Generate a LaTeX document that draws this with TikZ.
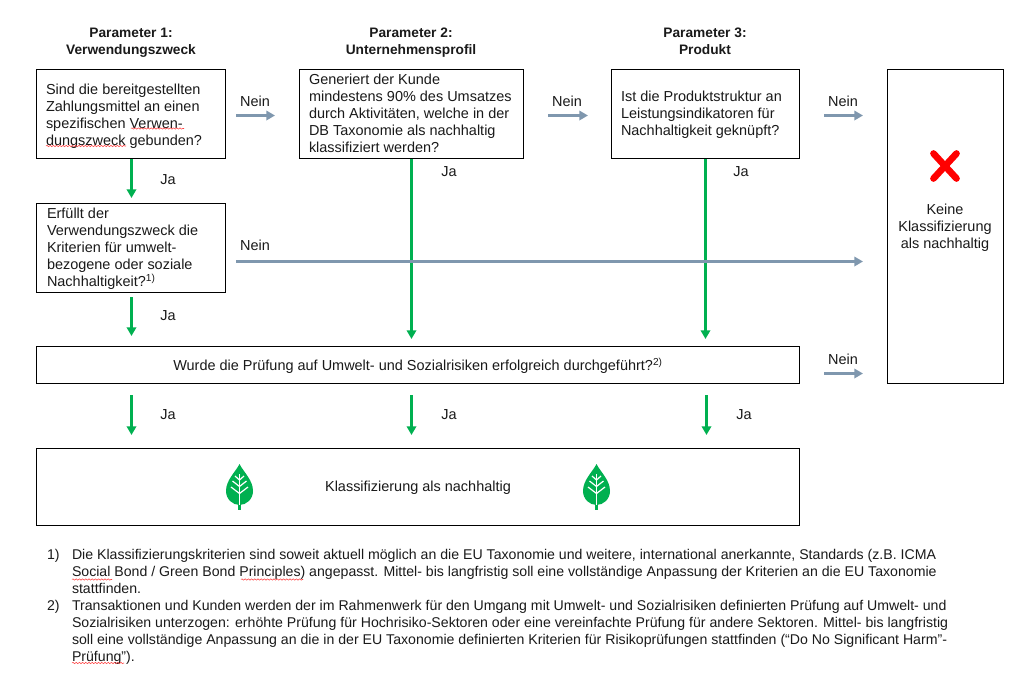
\documentclass[tikz,border=0pt]{standalone}
\usepackage{fontspec}
\setmainfont{Liberation Sans}
\usetikzlibrary{arrows.meta,decorations.pathmorphing}
\definecolor{gn}{HTML}{00B050}
\definecolor{gy}{HTML}{7F97AE}
\definecolor{tx}{HTML}{1A1A1A}
\tikzset{
 x=0.75pt,y=-0.75pt,
 box/.style={draw=black,line width=0.8pt,fill=white,minimum width=0pt,anchor=north west,inner sep=0pt,outer sep=0pt},
 txt/.style={font=\fontsize{10.85}{12.68}\selectfont,text=tx,align=left,inner sep=0pt,outer sep=0pt},
 foot/.style={font=\fontsize{10.6}{12.68}\selectfont,text=tx,align=left,inner sep=0pt,outer sep=0pt},
 ctr/.style={font=\fontsize{10.85}{12.68}\selectfont,text=tx,align=center,inner sep=0pt,outer sep=0pt},
 head/.style={font=\fontsize{10.3}{12.68}\selectfont\bfseries,text=tx,align=center,inner sep=0pt,outer sep=0pt},
 garrow/.style={draw=gn,line width=2.25pt,-{Triangle[length=6.5pt,width=7pt]}},
 narrow/.style={draw=gy,line width=2.25pt,-{Triangle[length=6.5pt,width=7pt]}},
 squig/.style={draw=red!75!white,line width=0.4pt,decorate,decoration={snake,amplitude=0.5pt,segment length=2.4pt}},
}
\newcommand{\rbox}[5]{\node[box,minimum width=#4*0.75pt,minimum height=#5*0.75pt] (#1) at (#2,#3) {};}
\newcommand{\leaf}[3]{%
 \begin{scope}[shift={(#2,#3)}]
  \fill[gn] (0,-23) .. controls (-4,-15) and (-13.5,-7) .. (-13.5,4) .. controls (-13.5,12) and (-7,18) .. (0,18) .. controls (7,18) and (13.5,12) .. (13.5,4) .. controls (13.5,-7) and (4,-15) .. (0,-23) -- cycle;
  \draw[gn,line width=1.6pt] (0,17) -- (0,22.5);
  \draw[white,line width=0.9pt] (0,-13) -- (0,18);
  \draw[white,line width=0.9pt] (-8.5,0) -- (0,6.5) -- (8.5,0) (-7,-6) -- (0,-0.5) -- (7,-6) (-4.5,-11) -- (0,-7) -- (4.5,-11);
 \end{scope}}
\begin{document}
\begin{tikzpicture}
\useasboundingbox (0,0) rectangle (1022,679);
\fill[white] (0,0) rectangle (1022,679);
% headers
\node[head,anchor=north] (h1) at (131,28) {Parameter 1:\\Verwendungszweck};
\node[head,anchor=north] (h2) at (411,28) {Parameter 2:\\Unternehmensprofil};
\node[head,anchor=north] (h3) at (705,28) {Parameter 3:\\Produkt};
% boxes
\rbox{b1}{36.5}{69.5}{189}{89}
\rbox{b2}{299.5}{69.5}{224}{89}
\rbox{b3}{611.5}{69.5}{188}{89}
\rbox{b4}{36.5}{203.5}{189}{89}
\rbox{b5}{36.5}{346.5}{763}{37}
\rbox{b6}{36.5}{448.5}{763}{77}
\rbox{b7}{887.5}{69.5}{116}{314}
% box texts
\node[txt,anchor=north west] (t1) at (46,84.5) {Sind die bereitgestellten\\Zahlungsmittel an einen\\spezifischen Verwen-\\dungszweck gebunden?};
\node[txt,anchor=north west] (t2) at (309,74.5) {Generiert der Kunde\\mindestens 90\% des Umsatzes\\durch Aktivitäten, welche in der\\DB Taxonomie als nachhaltig\\klassifiziert werden?};
\node[txt,anchor=north west] (t3) at (621,91.5) {Ist die Produktstruktur an\\Leistungsindikatoren für\\Nachhaltigkeit geknüpft?};
\node[txt,anchor=north west] (t4) at (47,208.5) {Erfüllt der\\Verwendungszweck die\\Kriterien für umwelt-\\bezogene oder soziale\\Nachhaltigkeit?\textsuperscript{1)}};
\node[ctr] (t5) at (418,366) {Wurde die Prüfung auf Umwelt- und Sozialrisiken erfolgreich durchgeführt?\textsuperscript{2)}};
\node[ctr] (t6) at (418,488) {Klassifizierung als nachhaltig};
\node[ctr] (t7) at (945,227.5) {Keine\\Klassifizierung\\als nachhaltig};
% cross
\draw[red,line width=5pt,line cap=round] (933.5,153.5) -- (956.5,178.5) (956.5,153.5) -- (933.5,178.5);
% leaves
\leaf{l1}{239.5}{487}
\leaf{l2}{596.5}{487}
% free connector ends
\coordinate (n1s) at (236,115.5); \coordinate (n1e) at (275,115.5);
\coordinate (n2s) at (548,115.5); \coordinate (n2e) at (588,115.5);
\coordinate (n3s) at (824,115.5); \coordinate (n3e) at (863,115.5);
\coordinate (n4s) at (236,261.5); \coordinate (n4e) at (863,261.5);
\coordinate (n5s) at (824,373.5); \coordinate (n5e) at (863,373.5);
\coordinate (g1s) at (131.5,159); \coordinate (g1e) at (131.5,198);
\coordinate (g2s) at (131.5,297); \coordinate (g2e) at (131.5,336);
\coordinate (g3s) at (411.5,159); \coordinate (g3e) at (411.5,339);
\coordinate (g4s) at (705.5,159); \coordinate (g4e) at (705.5,339);
\coordinate (g5s) at (131.5,395); \coordinate (g5e) at (131.5,435);
\coordinate (g6s) at (411.5,395); \coordinate (g6e) at (411.5,435);
\coordinate (g7s) at (706.5,395); \coordinate (g7e) at (706.5,435);
% connectors
\foreach \a/\b in {g1s/g1e,g2s/g2e,g3s/g3e,g4s/g4e,g5s/g5e,g6s/g6e,g7s/g7e} \draw[garrow] (\a) -- (\b);
\foreach \a/\b in {n1s/n1e,n2s/n2e,n3s/n3e,n4s/n4e,n5s/n5e} \draw[narrow] (\a) -- (\b);
% labels
\node[txt] (ln1) at (255,101) {Nein};
\node[txt] (ln2) at (567,101) {Nein};
\node[txt] (ln3) at (843,101) {Nein};
\node[txt] (ln4) at (255,245) {Nein};
\node[txt] (ln5) at (843,359) {Nein};
\node[txt] (lj1) at (168,180) {Ja};
\node[txt] (lj2) at (449,172) {Ja};
\node[txt] (lj3) at (741,172) {Ja};
\node[txt] (lj4) at (168,316) {Ja};
\node[txt] (lj5) at (168,415) {Ja};
\node[txt] (lj6) at (449,415) {Ja};
\node[txt] (lj7) at (744,415) {Ja};
% footnotes
\node[foot,anchor=north west] (f1n) at (47,549.5) {1)};
\node[foot,anchor=north west] (f1) at (72,549.5) {Die Klassifizierungskriterien sind soweit aktuell möglich an die EU Taxonomie und weitere, international anerkannte, Standards (z.B. ICMA\\Social Bond / Green Bond Principles) angepasst. Mittel- bis langfristig soll eine vollständige Anpassung der Kriterien an die EU Taxonomie\\stattfinden.};
\node[foot,anchor=north west] (f2n) at (47,600.5) {2)};
\node[foot,anchor=north west] (f2) at (72,600.5) {Transaktionen und Kunden werden der im Rahmenwerk für den Umgang mit Umwelt- und Sozialrisiken definierten Prüfung auf Umwelt- und\\Sozialrisiken unterzogen: erhöhte Prüfung für Hochrisiko-Sektoren oder eine vereinfachte Prüfung für andere Sektoren. Mittel- bis langfristig\\soll eine vollständige Anpassung an die in der EU Taxonomie definierten Kriterien für Risikoprüfungen stattfinden (“Do No Significant Harm”-\\Prüfung”).};
% spell-check underlines
\draw[squig] (131,128.5) -- (184,128.5);
\draw[squig] (46,146) -- (126,146);
\draw[squig] (72,579.5) -- (112,579.5);
\draw[squig] (241,579.5) -- (303,579.5);
\draw[squig] (72,663) -- (124,663);
\end{tikzpicture}
\end{document}
